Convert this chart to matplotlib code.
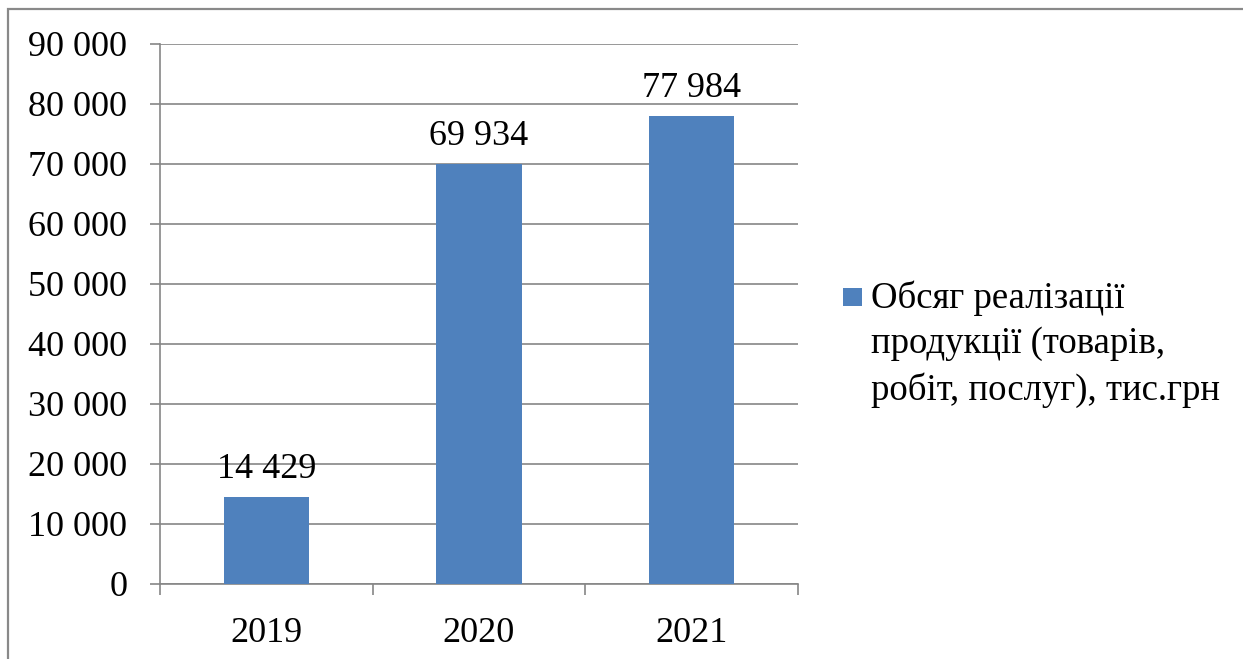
import matplotlib
matplotlib.use("Agg")
import matplotlib.pyplot as plt
from matplotlib.patches import Rectangle
from matplotlib.ticker import FuncFormatter, FixedLocator

years = ["2019", "2020", "2021"]
sales = [14429, 69934, 77984]
series_label = "Обсяг реалізації\nпродукції (товарів,\nробіт, послуг), тис.грн"

BAR_COLOR = "#4F81BD"
GRID_COLOR = "#868686"

plt.rcParams["font.family"] = ["Liberation Serif", "DejaVu Serif"]


def fmt(v, pos=None):
    return f"{int(v):,}".replace(",", " ")


fig = plt.figure(figsize=(12.43, 6.59), dpi=100)
W, H = 1243, 659

# outer chart frame (cut off at right and bottom)
fig.patches.append(Rectangle((8 / W, -0.1), 1.2, (659 - 9) / H + 0.1,
                             transform=fig.transFigure, fill=False,
                             edgecolor="#898989", linewidth=1.6))

ax = fig.add_axes([160 / W, (659 - 584) / H, (798 - 160) / W, (584 - 44) / H])

x = list(range(len(years)))
bars = ax.bar(x, sales, width=0.4, color=BAR_COLOR, label=series_label, zorder=3)

ax.set_xlim(-0.5, len(years) - 0.5)
ax.set_ylim(0, 90000)
ax.set_yticks(range(0, 90001, 10000))
ax.yaxis.set_major_formatter(FuncFormatter(fmt))
ax.grid(axis="y", color=GRID_COLOR, linewidth=1.2, zorder=0)

ax.set_xticks(x)
ax.set_xticklabels(years)
ax.xaxis.set_minor_locator(FixedLocator([i - 0.5 for i in range(len(years) + 1)]))
ax.tick_params(axis="x", which="major", length=0, pad=24, labelsize=26)
ax.tick_params(axis="x", which="minor", length=8, width=1.2, color=GRID_COLOR, direction="out")
ax.tick_params(axis="y", length=7.5, width=1.2, color=GRID_COLOR, pad=16, labelsize=26)

for s in ["top", "right"]:
    ax.spines[s].set_visible(False)
for s in ["left", "bottom"]:
    ax.spines[s].set_color(GRID_COLOR)
    ax.spines[s].set_linewidth(1.2)

for b, v in zip(bars, sales):
    ax.annotate(fmt(v), (b.get_x() + b.get_width() / 2, v),
                xytext=(0, 8), textcoords="offset points",
                ha="center", va="bottom", fontsize=26)

# legend drawn by hand: marker sits beside the first line of the label
fig.patches.append(Rectangle((843 / W, (659 - 306) / H), 19 / W, 18 / H,
                             transform=fig.transFigure, facecolor=BAR_COLOR,
                             edgecolor="none"))
fig.text(871 / W, (659 - 280) / H, series_label, ha="left", va="top",
         fontsize=26.5, linespacing=1.42)

fig.savefig("out.png", dpi=100)
